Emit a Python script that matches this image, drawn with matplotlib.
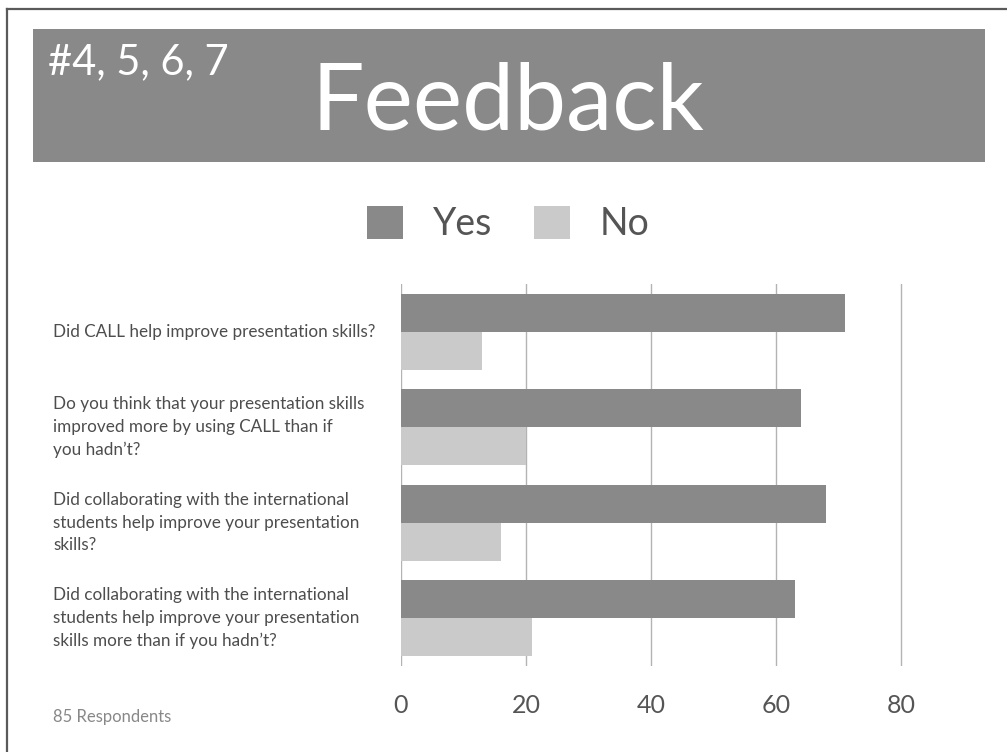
import matplotlib
matplotlib.use("Agg")
import matplotlib.pyplot as plt
import matplotlib.transforms as mtransforms
from matplotlib.patches import Rectangle, Patch
from matplotlib.lines import Line2D
import numpy as np

plt.rcParams['font.family'] = ['Lato', 'DejaVu Sans']

questions = [
    "Did CALL help improve presentation skills?",
    "Do you think that your presentation skills\nimproved more by using CALL than if\nyou hadn\u2019t?",
    "Did collaborating with the international\nstudents help improve your presentation\nskills?",
    "Did collaborating with the international\nstudents help improve your presentation\nskills more than if you hadn\u2019t?",
]
yes_vals = [71, 64, 68, 63]
no_vals = [13, 20, 16, 21]
series_names = ["Yes", "No"]
x_ticks = [0, 20, 40, 60, 80]
title = "Feedback"
subtitle = "#4, 5, 6, 7"
footnote = "85 Respondents"

W, H = 1007, 752
fig = plt.figure(figsize=(W / 100, H / 100), dpi=100)
fig.patch.set_facecolor('white')

def fx(px):
    return px / W

def fy(py):
    return 1 - py / H

# frame border (left & top)
fig.add_artist(Line2D([fx(7), fx(7)], [fy(9), 0], transform=fig.transFigure,
                      color='#5a5a5a', lw=1.6))
fig.add_artist(Line2D([fx(7), 1], [fy(9), fy(9)], transform=fig.transFigure,
                      color='#5a5a5a', lw=1.6))

# title banner
fig.add_artist(Rectangle((fx(33), fy(162)), fx(985) - fx(33), fy(29) - fy(162),
                         transform=fig.transFigure, facecolor='#898989',
                         edgecolor='none'))
fig.text(fx(508), fy(130), title, color='white', fontsize=67,
         ha='center', va='baseline')
fig.text(fx(48), fy(74), subtitle, color='white', fontsize=30,
         ha='left', va='baseline')

# axes
left, right = 401, 976
top, bottom = 284, 666
ax = fig.add_axes([fx(left), fy(bottom), fx(right) - fx(left), fy(top) - fy(bottom)])
ypos = np.arange(len(questions))
bh = 0.4
c_yes, c_no = '#898989', '#c9cac9'
ax.barh(ypos - bh / 2, yes_vals, height=bh, color=c_yes, label=series_names[0], zorder=3)
ax.barh(ypos + bh / 2, no_vals, height=bh, color=c_no, label=series_names[1], zorder=3)
ax.set_ylim(len(questions) - 0.5, -0.5)
ax.set_xlim(0, 92)
ax.set_xticks(x_ticks)
ax.set_xticklabels([str(t) for t in x_ticks])
ax.tick_params(axis='x', length=0, labelsize=18, labelcolor='#555555', pad=20)
ax.set_yticks([])
for s in ax.spines.values():
    s.set_visible(False)
ax.xaxis.grid(True, color='#b3b3b3', lw=1.0, zorder=0)
ax.set_axisbelow(True)

# category labels
label_tr = mtransforms.blended_transform_factory(fig.transFigure, ax.transData)
for i, q in enumerate(questions):
    ax.text(fx(53), i, q, transform=label_tr,
            ha='left', va='center', fontsize=12.3, color='#4d4d4d', linespacing=1.5)

# legend
handles = [Patch(facecolor=c_yes, edgecolor='none'), Patch(facecolor=c_no, edgecolor='none')]
fig.legend(handles, series_names, loc='center', bbox_to_anchor=(fx(508.5), fy(224)),
           ncol=2, frameon=False, fontsize=27, labelcolor='#555555',
           handlelength=0.96, handleheight=0.96, handletextpad=0.8,
           columnspacing=1.1, borderpad=0, borderaxespad=0)

fig.text(fx(53), fy(722), footnote, color='#888888', fontsize=12, ha='left', va='baseline')

fig.savefig('out.png', dpi=100)
